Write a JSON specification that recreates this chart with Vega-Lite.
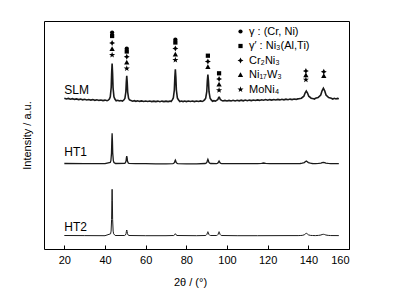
{
  "$schema": "https://vega.github.io/schema/vega-lite/v6.json",
  "width": 305,
  "height": 228,
  "autosize": "none",
  "padding": {"left": 44, "top": 21, "right": 49, "bottom": 53},
  "config": {
    "font": "Liberation Sans",
    "view": {"stroke": "black", "strokeWidth": 1},
    "axis": {"grid": false, "domain": false, "labelColor": "black", "titleColor": "black", "tickColor": "black", "titleFontWeight": "normal"}
  },
  "datasets": {
    "xrd": [
      {"s":"SLM","x":20,"y":150.8},{"s":"SLM","x":21,"y":150.0},{"s":"SLM","x":22,"y":150.6},{"s":"SLM","x":23,"y":149.8},{"s":"SLM","x":24,"y":150.3},{"s":"SLM","x":25,"y":149.6},{"s":"SLM","x":26,"y":150.1},{"s":"SLM","x":27,"y":149.4},{"s":"SLM","x":28,"y":149.9},{"s":"SLM","x":29,"y":149.2},{"s":"SLM","x":30,"y":149.7},{"s":"SLM","x":31,"y":149.0},{"s":"SLM","x":32,"y":149.5},{"s":"SLM","x":33,"y":148.9},{"s":"SLM","x":34,"y":149.4},{"s":"SLM","x":35,"y":148.7},{"s":"SLM","x":36,"y":149.2},{"s":"SLM","x":37,"y":148.6},{"s":"SLM","x":38,"y":149.0},{"s":"SLM","x":39,"y":148.4},{"s":"SLM","x":40,"y":148.9},{"s":"SLM","x":41,"y":148.3},{"s":"SLM","x":41.6,"y":148.8},
      {"s":"SLM","x":42.15,"y":150.0},{"s":"SLM","x":42.6,"y":152.2},{"s":"SLM","x":43.05,"y":161.5},{"s":"SLM","x":43.28,"y":176.2},{"s":"SLM","x":43.5,"y":185.5},{"s":"SLM","x":43.72,"y":176.2},{"s":"SLM","x":43.95,"y":161.5},{"s":"SLM","x":44.4,"y":152.2},{"s":"SLM","x":44.85,"y":150.0},
      {"s":"SLM","x":45.5,"y":148.2},{"s":"SLM","x":46.3,"y":148.7},{"s":"SLM","x":47,"y":148.0},{"s":"SLM","x":47.8,"y":148.5},{"s":"SLM","x":48.6,"y":147.9},
      {"s":"SLM","x":49.35,"y":149.2},{"s":"SLM","x":49.8,"y":150.7},{"s":"SLM","x":50.25,"y":157.0},{"s":"SLM","x":50.48,"y":167.0},{"s":"SLM","x":50.7,"y":173.2},{"s":"SLM","x":50.92,"y":167.0},{"s":"SLM","x":51.15,"y":157.0},{"s":"SLM","x":51.6,"y":150.7},{"s":"SLM","x":52.05,"y":149.2},
      {"s":"SLM","x":52.8,"y":148.4},{"s":"SLM","x":53.6,"y":147.8},{"s":"SLM","x":54.4,"y":148.3},{"s":"SLM","x":55.2,"y":147.7},{"s":"SLM","x":56,"y":148.2},{"s":"SLM","x":57,"y":147.6},{"s":"SLM","x":58,"y":148.1},{"s":"SLM","x":59,"y":147.5},{"s":"SLM","x":60,"y":148.0},{"s":"SLM","x":61,"y":147.5},{"s":"SLM","x":62,"y":148.0},{"s":"SLM","x":63,"y":147.4},{"s":"SLM","x":64,"y":147.9},{"s":"SLM","x":65,"y":147.4},{"s":"SLM","x":66,"y":147.9},{"s":"SLM","x":67,"y":147.3},{"s":"SLM","x":68,"y":147.9},{"s":"SLM","x":69,"y":147.4},{"s":"SLM","x":70,"y":147.9},{"s":"SLM","x":71,"y":147.4},{"s":"SLM","x":72,"y":147.9},{"s":"SLM","x":72.5,"y":147.5},
      {"s":"SLM","x":73.1,"y":149.1},{"s":"SLM","x":73.6,"y":151.0},{"s":"SLM","x":74.1,"y":159.0},{"s":"SLM","x":74.35,"y":171.8},{"s":"SLM","x":74.6,"y":179.8},{"s":"SLM","x":74.85,"y":171.8},{"s":"SLM","x":75.1,"y":159.0},{"s":"SLM","x":75.6,"y":151.0},{"s":"SLM","x":76.1,"y":149.1},
      {"s":"SLM","x":76.8,"y":147.5},{"s":"SLM","x":77.6,"y":148.0},{"s":"SLM","x":78.4,"y":147.4},{"s":"SLM","x":79.2,"y":147.9},{"s":"SLM","x":80,"y":147.4},{"s":"SLM","x":81,"y":148.0},{"s":"SLM","x":82,"y":147.5},{"s":"SLM","x":83,"y":148.0},{"s":"SLM","x":84,"y":147.4},{"s":"SLM","x":85,"y":148.0},{"s":"SLM","x":86,"y":147.5},{"s":"SLM","x":87,"y":148.1},{"s":"SLM","x":87.8,"y":147.6},{"s":"SLM","x":88.4,"y":148.1},
      {"s":"SLM","x":88.95,"y":149.1},{"s":"SLM","x":89.5,"y":150.7},{"s":"SLM","x":90.05,"y":157.3},{"s":"SLM","x":90.32,"y":167.9},{"s":"SLM","x":90.6,"y":174.5},{"s":"SLM","x":90.88,"y":167.9},{"s":"SLM","x":91.15,"y":157.3},{"s":"SLM","x":91.7,"y":150.7},{"s":"SLM","x":92.25,"y":149.1},
      {"s":"SLM","x":92.9,"y":147.7},{"s":"SLM","x":93.6,"y":148.3},{"s":"SLM","x":94.3,"y":147.8},
      {"s":"SLM","x":94.9,"y":148.6},{"s":"SLM","x":95.5,"y":149.5},{"s":"SLM","x":95.8,"y":151.0},{"s":"SLM","x":96.1,"y":151.8},{"s":"SLM","x":96.4,"y":151.0},{"s":"SLM","x":96.7,"y":149.5},{"s":"SLM","x":97.3,"y":148.6},
      {"s":"SLM","x":98,"y":148.0},{"s":"SLM","x":99,"y":148.6},{"s":"SLM","x":100,"y":148.0},{"s":"SLM","x":101,"y":148.6},{"s":"SLM","x":102,"y":148.0},{"s":"SLM","x":103,"y":148.7},{"s":"SLM","x":104,"y":148.1},{"s":"SLM","x":105,"y":148.7},{"s":"SLM","x":106,"y":148.2},{"s":"SLM","x":107,"y":148.8},{"s":"SLM","x":108,"y":148.2},{"s":"SLM","x":109,"y":148.9},{"s":"SLM","x":110,"y":148.3},{"s":"SLM","x":111,"y":148.9},{"s":"SLM","x":112,"y":148.4},{"s":"SLM","x":113,"y":149.0},{"s":"SLM","x":114,"y":148.5},{"s":"SLM","x":115,"y":149.1},{"s":"SLM","x":116,"y":148.6},{"s":"SLM","x":117,"y":149.2},{"s":"SLM","x":118,"y":148.8},{"s":"SLM","x":119,"y":149.4},{"s":"SLM","x":120,"y":148.8},{"s":"SLM","x":121,"y":149.4},{"s":"SLM","x":122,"y":148.9},{"s":"SLM","x":123,"y":149.5},{"s":"SLM","x":124,"y":149.0},{"s":"SLM","x":125,"y":149.6},{"s":"SLM","x":126,"y":149.1},{"s":"SLM","x":127,"y":149.7},{"s":"SLM","x":128,"y":149.2},{"s":"SLM","x":129,"y":149.8},{"s":"SLM","x":130,"y":149.3},{"s":"SLM","x":131,"y":149.9},{"s":"SLM","x":132,"y":149.4},{"s":"SLM","x":133,"y":150.0},{"s":"SLM","x":134,"y":149.6},{"s":"SLM","x":134.8,"y":150.1},
      {"s":"SLM","x":135.4,"y":150.3},{"s":"SLM","x":136.6,"y":150.8},{"s":"SLM","x":137.8,"y":152.8},{"s":"SLM","x":138.4,"y":156.0},{"s":"SLM","x":139,"y":158.0},{"s":"SLM","x":139.6,"y":156.0},{"s":"SLM","x":140.2,"y":152.8},{"s":"SLM","x":141.4,"y":150.8},{"s":"SLM","x":142.6,"y":150.3},
      {"s":"SLM","x":143,"y":150.0},
      {"s":"SLM","x":143.5,"y":150.7},{"s":"SLM","x":144.8,"y":151.4},{"s":"SLM","x":146.1,"y":154.0},{"s":"SLM","x":146.75,"y":158.2},{"s":"SLM","x":147.4,"y":160.8},{"s":"SLM","x":148.05,"y":158.2},{"s":"SLM","x":148.7,"y":154.0},{"s":"SLM","x":150,"y":151.4},{"s":"SLM","x":151.3,"y":150.7},
      {"s":"SLM","x":152,"y":150.0},{"s":"SLM","x":152.8,"y":150.7},{"s":"SLM","x":153.6,"y":150.1},{"s":"SLM","x":154.3,"y":150.6},{"s":"SLM","x":155,"y":150.2},

      {"s":"HT1","x":20,"y":85.5},{"s":"HT1","x":30,"y":85.4},{"s":"HT1","x":40,"y":85.3},
      {"s":"HT1","x":42.6,"y":86.5},{"s":"HT1","x":42.9,"y":88.3},{"s":"HT1","x":43.2,"y":95.9},{"s":"HT1","x":43.35,"y":108.1},{"s":"HT1","x":43.5,"y":115.7},{"s":"HT1","x":43.65,"y":108.1},{"s":"HT1","x":43.8,"y":95.9},{"s":"HT1","x":44.1,"y":88.3},{"s":"HT1","x":44.4,"y":86.5},{"s":"HT1","x":45.2,"y":85.5},
      {"s":"HT1","x":49.65,"y":85.6},{"s":"HT1","x":50.0,"y":86.1},{"s":"HT1","x":50.35,"y":88.0},{"s":"HT1","x":50.52,"y":91.1},{"s":"HT1","x":50.7,"y":93.0},{"s":"HT1","x":50.88,"y":91.1},{"s":"HT1","x":51.05,"y":88.0},{"s":"HT1","x":51.4,"y":86.1},{"s":"HT1","x":51.75,"y":85.6},
      {"s":"HT1","x":55,"y":85.3},{"s":"HT1","x":60,"y":85.3},{"s":"HT1","x":65,"y":85.2},{"s":"HT1","x":70,"y":85.2},
      {"s":"HT1","x":73.4,"y":85.4},{"s":"HT1","x":73.8,"y":85.7},{"s":"HT1","x":74.2,"y":86.6},{"s":"HT1","x":74.4,"y":88.1},{"s":"HT1","x":74.6,"y":89.0},{"s":"HT1","x":74.8,"y":88.1},{"s":"HT1","x":75.0,"y":86.6},{"s":"HT1","x":75.4,"y":85.7},{"s":"HT1","x":75.8,"y":85.4},
      {"s":"HT1","x":80,"y":85.2},{"s":"HT1","x":85,"y":85.2},
      {"s":"HT1","x":89.25,"y":85.5},{"s":"HT1","x":89.7,"y":85.8},{"s":"HT1","x":90.15,"y":86.8},{"s":"HT1","x":90.38,"y":88.6},{"s":"HT1","x":90.6,"y":89.7},{"s":"HT1","x":90.82,"y":88.6},{"s":"HT1","x":91.05,"y":86.8},{"s":"HT1","x":91.5,"y":85.8},{"s":"HT1","x":91.95,"y":85.5},
      {"s":"HT1","x":94.75,"y":85.4},{"s":"HT1","x":95.2,"y":85.6},{"s":"HT1","x":95.65,"y":86.2},{"s":"HT1","x":95.88,"y":87.3},{"s":"HT1","x":96.1,"y":88.0},{"s":"HT1","x":96.32,"y":87.3},{"s":"HT1","x":96.55,"y":86.2},{"s":"HT1","x":97.0,"y":85.6},{"s":"HT1","x":97.45,"y":85.4},
      {"s":"HT1","x":100,"y":85.3},{"s":"HT1","x":110,"y":85.3},{"s":"HT1","x":115,"y":85.3},{"s":"HT1","x":117,"y":85.6},{"s":"HT1","x":118,"y":86.0},{"s":"HT1","x":119,"y":85.6},{"s":"HT1","x":121,"y":85.3},{"s":"HT1","x":130,"y":85.4},{"s":"HT1","x":135,"y":85.4},
      {"s":"HT1","x":136,"y":85.5},{"s":"HT1","x":137,"y":85.8},{"s":"HT1","x":138,"y":86.4},{"s":"HT1","x":138.5,"y":87.3},{"s":"HT1","x":139,"y":88.0},{"s":"HT1","x":139.5,"y":87.3},{"s":"HT1","x":140,"y":86.4},{"s":"HT1","x":141,"y":85.8},{"s":"HT1","x":142,"y":85.5},
      {"s":"HT1","x":143.5,"y":85.4},{"s":"HT1","x":145,"y":85.6},{"s":"HT1","x":146.2,"y":85.9},{"s":"HT1","x":146.8,"y":86.4},{"s":"HT1","x":147.4,"y":86.7},{"s":"HT1","x":148,"y":86.4},{"s":"HT1","x":148.6,"y":85.9},{"s":"HT1","x":149.8,"y":85.6},{"s":"HT1","x":151,"y":85.45},{"s":"HT1","x":155,"y":85.4},

      {"s":"HT2","x":20,"y":13.5},{"s":"HT2","x":30,"y":13.4},{"s":"HT2","x":40,"y":13.3},
      {"s":"HT2","x":42.75,"y":15.2},{"s":"HT2","x":43.0,"y":17.9},{"s":"HT2","x":43.25,"y":29.5},{"s":"HT2","x":43.38,"y":48.1},{"s":"HT2","x":43.5,"y":59.7},{"s":"HT2","x":43.62,"y":48.1},{"s":"HT2","x":43.75,"y":29.5},{"s":"HT2","x":44.0,"y":17.9},{"s":"HT2","x":44.25,"y":15.2},{"s":"HT2","x":45,"y":13.5},
      {"s":"HT2","x":49.65,"y":13.5},{"s":"HT2","x":50.0,"y":13.9},{"s":"HT2","x":50.35,"y":15.3},{"s":"HT2","x":50.52,"y":17.6},{"s":"HT2","x":50.7,"y":19.0},{"s":"HT2","x":50.88,"y":17.6},{"s":"HT2","x":51.05,"y":15.3},{"s":"HT2","x":51.4,"y":13.9},{"s":"HT2","x":51.75,"y":13.5},
      {"s":"HT2","x":60,"y":13.3},{"s":"HT2","x":70,"y":13.3},
      {"s":"HT2","x":73.8,"y":13.5},{"s":"HT2","x":74.2,"y":14.0},{"s":"HT2","x":74.4,"y":14.8},{"s":"HT2","x":74.6,"y":15.3},{"s":"HT2","x":74.8,"y":14.8},{"s":"HT2","x":75.0,"y":14.0},{"s":"HT2","x":75.4,"y":13.5},
      {"s":"HT2","x":85,"y":13.3},
      {"s":"HT2","x":89.25,"y":13.5},{"s":"HT2","x":89.7,"y":13.7},{"s":"HT2","x":90.15,"y":14.7},{"s":"HT2","x":90.38,"y":16.3},{"s":"HT2","x":90.6,"y":17.3},{"s":"HT2","x":90.82,"y":16.3},{"s":"HT2","x":91.05,"y":14.7},{"s":"HT2","x":91.5,"y":13.7},{"s":"HT2","x":91.95,"y":13.5},
      {"s":"HT2","x":94.75,"y":13.5},{"s":"HT2","x":95.2,"y":13.7},{"s":"HT2","x":95.65,"y":14.7},{"s":"HT2","x":95.88,"y":16.3},{"s":"HT2","x":96.1,"y":17.3},{"s":"HT2","x":96.32,"y":16.3},{"s":"HT2","x":96.55,"y":14.7},{"s":"HT2","x":97.0,"y":13.7},{"s":"HT2","x":97.45,"y":13.5},
      {"s":"HT2","x":105,"y":13.3},{"s":"HT2","x":115,"y":13.3},{"s":"HT2","x":130,"y":13.4},{"s":"HT2","x":135,"y":13.4},
      {"s":"HT2","x":136,"y":13.5},{"s":"HT2","x":137,"y":13.6},{"s":"HT2","x":138,"y":14.2},{"s":"HT2","x":138.5,"y":15.1},{"s":"HT2","x":139,"y":15.7},{"s":"HT2","x":139.5,"y":15.1},{"s":"HT2","x":140,"y":14.2},{"s":"HT2","x":141,"y":13.6},{"s":"HT2","x":142,"y":13.5},
      {"s":"HT2","x":143.5,"y":13.4},{"s":"HT2","x":145,"y":13.6},{"s":"HT2","x":146.2,"y":14.0},{"s":"HT2","x":146.8,"y":14.5},{"s":"HT2","x":147.4,"y":14.7},{"s":"HT2","x":148,"y":14.5},{"s":"HT2","x":148.6,"y":14.0},{"s":"HT2","x":149.8,"y":13.6},{"s":"HT2","x":151,"y":13.45},{"s":"HT2","x":155,"y":13.4}
    ],
    "markers": [
      {"x":43.5,"y":216.5,"phase":"γ : (Cr, Ni)"},{"x":43.5,"y":213,"phase":"γ′ : Ni₃(Al,Ti)"},{"x":43.5,"y":206,"phase":"Cr₂Ni₃"},{"x":43.5,"y":200,"phase":"Ni₁₇W₃"},{"x":43.5,"y":194,"phase":"MoNi₄"},
      {"x":50.7,"y":200.5,"phase":"γ : (Cr, Ni)"},{"x":50.7,"y":197.5,"phase":"γ′ : Ni₃(Al,Ti)"},{"x":50.7,"y":192.3,"phase":"Cr₂Ni₃"},{"x":50.7,"y":186.7,"phase":"Ni₁₇W₃"},{"x":50.7,"y":180.5,"phase":"MoNi₄"},
      {"x":74.6,"y":209.5,"phase":"γ : (Cr, Ni)"},{"x":74.6,"y":206.5,"phase":"γ′ : Ni₃(Al,Ti)"},{"x":74.6,"y":200.5,"phase":"Cr₂Ni₃"},{"x":74.6,"y":194.7,"phase":"Ni₁₇W₃"},{"x":74.6,"y":189,"phase":"MoNi₄"},
      {"x":90.6,"y":193.3,"phase":"γ′ : Ni₃(Al,Ti)"},{"x":90.6,"y":187.5,"phase":"Cr₂Ni₃"},{"x":90.6,"y":182,"phase":"Ni₁₇W₃"},
      {"x":96.1,"y":175.7,"phase":"γ′ : Ni₃(Al,Ti)"},{"x":96.1,"y":170,"phase":"Cr₂Ni₃"},{"x":96.1,"y":164.5,"phase":"Ni₁₇W₃"},{"x":96.1,"y":158.7,"phase":"MoNi₄"},
      {"x":138.8,"y":178,"phase":"Cr₂Ni₃"},{"x":138.8,"y":173.8,"phase":"Ni₁₇W₃"},{"x":138.8,"y":169.3,"phase":"MoNi₄"},
      {"x":147.6,"y":177.3,"phase":"Cr₂Ni₃"},{"x":147.6,"y":173,"phase":"Ni₁₇W₃"}
    ],
    "labels": [
      {"x":20,"y":159,"t":"SLM"},{"x":20,"y":97,"t":"HT1"},{"x":20,"y":22.5,"t":"HT2"}
    ]
  },
  "layer": [
    {
      "data": {"name": "xrd"},
      "mark": {"type": "line", "color": "#1a1a1a"},
      "encoding": {
        "x": {"field": "x", "type": "quantitative", "scale": {"domain": [10, 160], "nice": false, "zero": false},
              "axis": {"values": [20,40,60,80,100,120,140,160], "tickSize": -4, "labelPadding": 9, "labelFontSize": 11, "title": "2θ / (°)", "titleFontSize": 11, "titleX": 146, "titleY": 27, "titleBaseline": "top"}},
        "y": {"field": "y", "type": "quantitative", "scale": {"domain": [0, 228], "nice": false},
              "axis": {"ticks": false, "labels": false, "title": "Intensity / a.u.", "titleFontSize": 11, "titleX": -17, "titleY": 114, "titleBaseline": "middle", "titleAngle": -90}},
        "detail": {"field": "s", "type": "nominal"},
        "strokeWidth": {"field": "s", "type": "nominal", "scale": {"domain": ["SLM","HT1","HT2"], "range": [1.6, 1, 1]}, "legend": null},
        "order": {"field": "x", "type": "quantitative"}
      }
    },
    {
      "data": {"name": "markers"},
      "mark": {"type": "point", "filled": true, "opacity": 1},
      "encoding": {
        "x": {"field": "x", "type": "quantitative"},
        "y": {"field": "y", "type": "quantitative"},
        "color": {"value": "black"},
        "size": {"value": 18},
        "shape": {"field": "phase", "type": "nominal",
          "scale": {"domain": ["γ : (Cr, Ni)", "γ′ : Ni₃(Al,Ti)", "Cr₂Ni₃", "Ni₁₇W₃", "MoNi₄"],
                    "range": ["circle", "square", "M0,-1.4L0.45,-0.45L1.4,0L0.45,0.45L0,1.4L-0.45,0.45L-1.4,0L-0.45,-0.45Z", "M0,-1.25L1.25,1L-1.25,1Z", "M0,-1.5L0.35,-0.49L1.43,-0.46L0.57,0.19L0.88,1.21L0,0.6L-0.88,1.21L-0.57,0.19L-1.43,-0.46L-0.35,-0.49Z"]},
          "legend": {"orient": "none", "legendX": 191, "legendY": 5, "title": null, "labelFontSize": 11, "labelColor": "black", "symbolSize": 18, "rowPadding": 2.5, "labelOffset": 3, "symbolFillColor": "black", "symbolStrokeWidth": 0}}
      }
    },
    {
      "data": {"name": "labels"},
      "mark": {"type": "text", "align": "left", "baseline": "middle", "fontSize": 12, "color": "black"},
      "encoding": {
        "x": {"field": "x", "type": "quantitative"},
        "y": {"field": "y", "type": "quantitative"},
        "text": {"field": "t"}
      }
    }
  ]
}
